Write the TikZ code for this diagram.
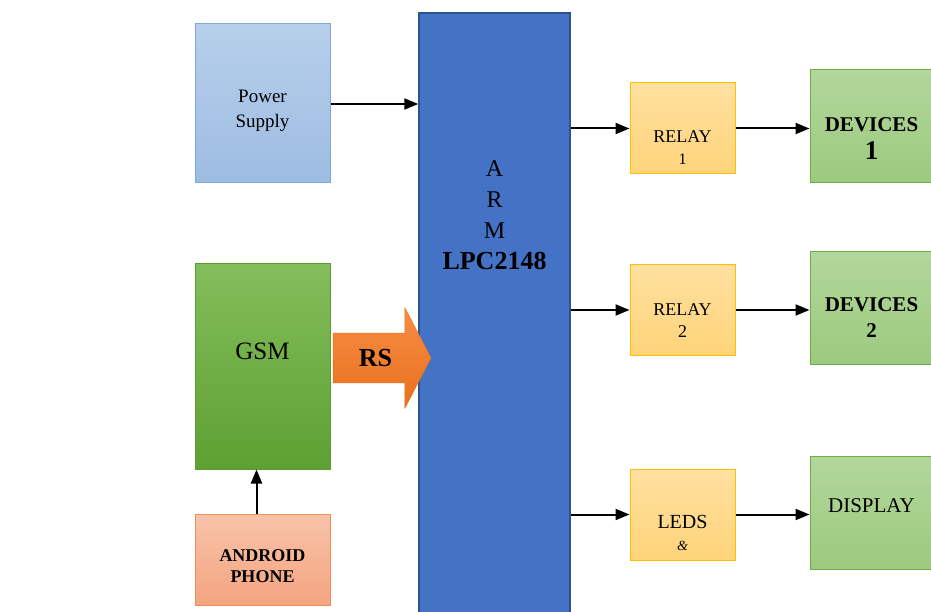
\documentclass[tikz,border=0pt]{standalone}
\usepackage{fontspec}
\setmainfont{Liberation Serif}
\usepackage{xcolor}
\usepackage{tikz}
\usetikzlibrary{arrows.meta, shapes.arrows}

\definecolor{powtop}{HTML}{B7CFEA}
\definecolor{powbot}{HTML}{9DBCE3}
\definecolor{powline}{HTML}{7FA7D9}
\definecolor{gsmtop}{HTML}{84BD5C}
\definecolor{gsmbot}{HTML}{5EA032}
\definecolor{gsmline}{HTML}{5B9A34}
\definecolor{phonetop}{HTML}{F8C3AA}
\definecolor{phonebot}{HTML}{F4A47F}
\definecolor{phoneline}{HTML}{F08C55}
\definecolor{armfill}{HTML}{4472C4}
\definecolor{armline}{HTML}{2F528F}
\definecolor{relaytop}{HTML}{FFE0A0}
\definecolor{relaybot}{HTML}{FFD47A}
\definecolor{relayline}{HTML}{FFC000}
\definecolor{devtop}{HTML}{B3D69C}
\definecolor{devbot}{HTML}{9BCA7E}
\definecolor{devline}{HTML}{70AD47}
\definecolor{rstop}{HTML}{F68D46}
\definecolor{rsbot}{HTML}{E9701C}

% text block moved up or down inside its box
\newcommand{\boxtext}[2]{\raisebox{#1}[0pt][0pt]{\begin{tabular}{@{}c@{}}#2\end{tabular}}}

\begin{document}
\begin{tikzpicture}[x=1pt, y=-1pt, line width=2pt, >={Triangle[length=14pt, width=11pt]},
    block/.style={rectangle, draw, line width=1pt, inner sep=0pt},
    relaybox/.style={block, minimum width=105pt, minimum height=91pt, top color=relaytop, bottom color=relaybot, draw=relayline, font=\fontsize{18}{22}\selectfont},
    devbox/.style={block, minimum width=123pt, minimum height=113pt, top color=devtop, bottom color=devbot, draw=devline, font=\fontsize{21}{26}\selectfont}]
    \useasboundingbox (0,0) rectangle (931,612);

    \node[block, minimum width=135pt, minimum height=159pt, top color=powtop, bottom color=powbot, draw=powline, font=\fontsize{19}{25}\selectfont] (power) at (262.5,103.5) {
        \boxtext{-11pt}{Power\\Supply}
    };

    \node[block, minimum width=135pt, minimum height=205pt, top color=gsmtop, bottom color=gsmbot, draw=gsmline, font=\fontsize{25}{30}\selectfont] (gsm) at (262.5,366.5) {
        \boxtext{7pt}{GSM}
    };

    \node[block, minimum width=135pt, minimum height=91pt, top color=phonetop, bottom color=phonebot, draw=phoneline, font=\bfseries\fontsize{18}{21}\selectfont] (phone) at (262.5,559.5) {
        \boxtext{-13pt}{ANDROID\\PHONE}
    };

    \node[block, minimum width=151pt, minimum height=612pt, fill=armfill, draw=armline, line width=1.5pt, font=\fontsize{24}{31}\selectfont] (arm) at (494.5,319) {
        \boxtext{96pt}{A\\R\\M\\\textbf{\fontsize{26}{31}\selectfont LPC2148}}
    };

    \node[relaybox] (relay1) at (682.5,128.5) {
        \boxtext{-25pt}{RELAY\\{\fontsize{16}{23}\selectfont 1}}
    };

    \node[relaybox] (relay2) at (682.5,310) {
        \boxtext{-16pt}{RELAY\\2}
    };

    \node[relaybox, font=\fontsize{20}{22}\selectfont] (leds) at (682.5,514.5) {
        \boxtext{-26pt}{LEDS\\{\fontsize{14}{22}\selectfont\itshape\&}}
    };

    \node[devbox, font=\fontsize{21}{28}\selectfont] (dev1) at (871.5,126) {
        \boxtext{-19pt}{\textbf{DEVICES}\\\textbf{\fontsize{27}{28}\selectfont 1}}
    };

    \node[devbox] (dev2) at (871.5,308) {
        \boxtext{-16pt}{\textbf{DEVICES}\\\textbf{2}}
    };

    \node[devbox] (display) at (871.5,513) {
        \boxtext{1pt}{DISPLAY}
    };

    \node[single arrow, draw=rsbot, line width=0.5pt, top color=rstop, bottom color=rsbot, minimum height=98pt, minimum width=100pt,
        single arrow head extend=25pt, single arrow tip angle=125, inner xsep=2pt, inner ysep=16pt, font=\bfseries\fontsize{26}{30}\selectfont] (rs) at (375.5,358) {RS};

    \draw[->] ([yshift=-0.5pt]power.east) -- ([yshift=-0.5pt]power.east -| arm.west);
    \draw[->] (relay1.west -| arm.east) -- (relay1.west);
    \draw[->] (relay2.west -| arm.east) -- (relay2.west);
    \draw[->] (leds.west -| arm.east) -- (leds.west);
    \draw[->] (relay1.east) -- (relay1.east -| dev1.west);
    \draw[->] (relay2.east) -- (relay2.east -| dev2.west);
    \draw[->] (leds.east) -- (leds.east -| display.west);
    \draw[->] ([xshift=-6pt]phone.north) -- ([xshift=-6pt]phone.north |- gsm.south);
\end{tikzpicture}
\end{document}
